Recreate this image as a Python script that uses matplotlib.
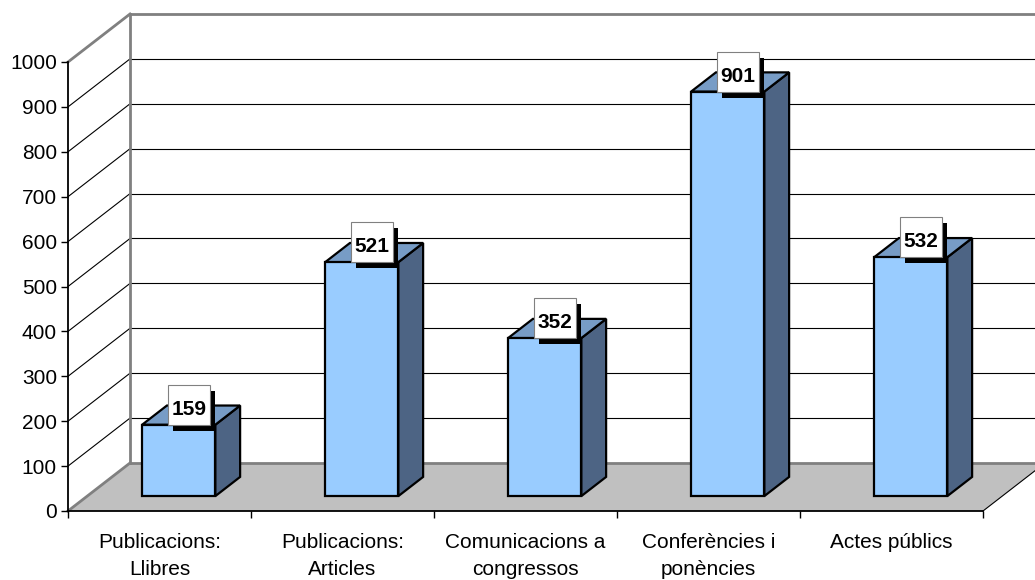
import numpy as np
import matplotlib.pyplot as plt
from matplotlib.patches import Polygon, Rectangle

plt.rcParams['font.family'] = ['Liberation Sans', 'DejaVu Sans']

categories = ['Publicacions:\nLlibres', 'Publicacions:\nArticles', 'Comunicacions a\ncongressos',
              'Conferències i\nponències', 'Actes públics']
values = [159, 521, 352, 901, 532]
y_ticks = list(range(0, 1001, 100))

# layout of the fake 3D box (x in category units, y in value units)
W, H = 1035, 580
PX_CAT = 183.0      # pixels per category
PX_VAL = 0.449      # pixels per value unit
X0_PX, Y0_PX = 68, 69
DX = 62 / PX_CAT    # depth offset
DY = 48 / PX_VAL
BAR_FRONT, BAR_BACK, BAR_HALF = 0.31, 0.71, 0.2

FRONT_C = '#99CCFF'
TOP_C = '#779CC6'
SIDE_C = '#4D6484'
GRAY = '#808080'

fig = plt.figure(figsize=(W / 100, H / 100), dpi=100)
ax = fig.add_axes([0, 0, 1, 1])
ax.set_xlim(-X0_PX / PX_CAT, (W - X0_PX) / PX_CAT)
ax.set_ylim(-Y0_PX / PX_VAL, (H - Y0_PX) / PX_VAL)
x_end = (W - X0_PX) / PX_CAT
n = len(categories)
top = y_ticks[-1]

# walls and floor
ax.add_patch(Polygon([(0, 0), (DX, DY), (DX, top + DY), (0, top)], facecolor='white', edgecolor='none', zorder=0))
ax.add_patch(Polygon([(0, 0), (n, 0), (n + DX, DY), (DX, DY)], facecolor='#C0C0C0', edgecolor='none', zorder=0.5))
ax.plot([n, n + DX], [0, DY], color='black', lw=0.8, zorder=0.6)

for t in y_ticks[1:]:
    ax.plot([0, DX], [t, t + DY], color='black', lw=0.8, zorder=0.3)
    ax.plot([DX, x_end], [t + DY, t + DY], color='black', lw=0.8, zorder=0.3)

ax.plot([DX, DX], [DY, top + DY], color=GRAY, lw=2, zorder=0.7)
ax.plot([DX, x_end], [top + DY, top + DY], color=GRAY, lw=2, zorder=0.7)
ax.plot([0, DX], [top, top + DY], color=GRAY, lw=2, zorder=0.7)
ax.plot([0, DX], [0, DY], color=GRAY, lw=2, zorder=0.7)
ax.plot([DX, n + DX], [DY, DY], color=GRAY, lw=2, zorder=0.7)

# label box size in pixels
BOX_W, BOX_H, SH_X, SH_Y = 42, 40, 5, 6

# bars
for i, v in enumerate(values):
    xl = i + 0.5 - BAR_HALF
    xr = i + 0.5 + BAR_HALF
    fx, fy = BAR_FRONT * DX, BAR_FRONT * DY
    bx, by = BAR_BACK * DX, BAR_BACK * DY
    side = [(xr + fx, fy), (xr + bx, by), (xr + bx, v + by), (xr + fx, v + fy)]
    topf = [(xl + fx, v + fy), (xr + fx, v + fy), (xr + bx, v + by), (xl + bx, v + by)]
    front = [(xl + fx, fy), (xr + fx, fy), (xr + fx, v + fy), (xl + fx, v + fy)]
    for pts, c in ((side, SIDE_C), (topf, TOP_C), (front, FRONT_C)):
        ax.add_patch(Polygon(pts, facecolor=c, edgecolor='black', lw=1.6, joinstyle='miter', zorder=3))

    # data label: white box with black drop shadow
    lx = i + 0.5 + (BAR_FRONT + 0.16) * DX
    ly = v + fy
    bw, bh = BOX_W / PX_CAT, BOX_H / PX_VAL
    ax.add_patch(Rectangle((lx - bw / 2 + SH_X / PX_CAT, ly - SH_Y / PX_VAL), bw, bh,
                           facecolor='black', edgecolor='none', zorder=4))
    ax.add_patch(Rectangle((lx - bw / 2, ly), bw, bh, facecolor='white', edgecolor=GRAY, lw=0.8, zorder=5))
    ax.text(lx, ly + 10 / PX_VAL, str(v), ha='center', va='baseline', fontsize=15,
            fontweight='bold', color='black', zorder=6)

# axes
for s in ('top', 'right'):
    ax.spines[s].set_visible(False)
ax.spines['left'].set_position(('data', 0))
ax.spines['left'].set_bounds(0, top)
ax.spines['bottom'].set_position(('data', 0))
ax.spines['bottom'].set_bounds(0, n)
for s in ('left', 'bottom'):
    ax.spines[s].set_linewidth(1.3)
    ax.spines[s].set_zorder(2)

ax.set_yticks(y_ticks)
ax.tick_params(axis='y', direction='out', length=5, width=1, pad=3, labelsize=15)
ax.set_xticks(range(n + 1))
ax.set_xticklabels([])
ax.set_xticks(np.arange(n) + 0.5, minor=True)
ax.set_xticklabels(categories, minor=True, linespacing=1.5)
ax.tick_params(axis='x', which='major', direction='out', length=5, width=1)
ax.tick_params(axis='x', which='minor', length=0, pad=16, labelsize=15)

fig.savefig('out.png', dpi=100)
